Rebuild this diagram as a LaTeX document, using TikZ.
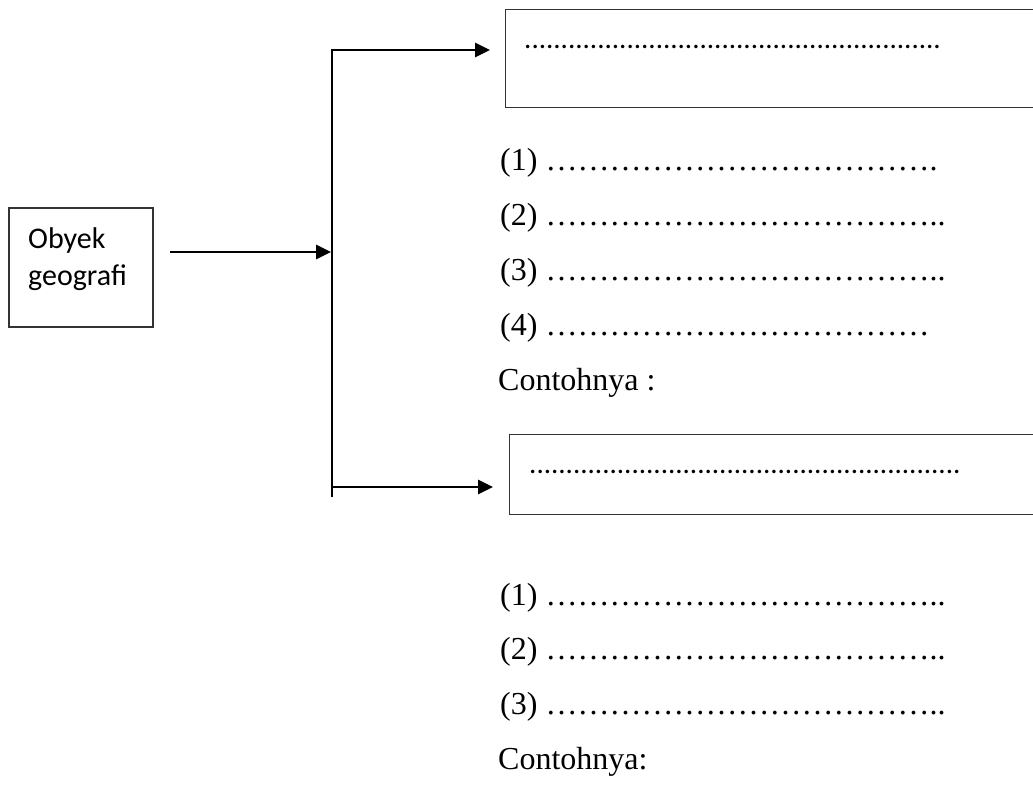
\documentclass[tikz,border=0pt]{standalone}
\usepackage{fontspec}
\setmainfont{Liberation Serif}
\newfontfamily\calib{Carlito}
\usetikzlibrary{arrows.meta}
\begin{document}
\begin{tikzpicture}[x=1pt,y=-1pt,
  box/.style={draw=black!80, line width=1.3pt, inner sep=0pt},
  conn/.style={line width=2.8pt},
  arr/.style={conn,-{Triangle[length=15pt,width=14pt]}},
  item/.style={anchor=base west, inner sep=0pt, font=\fontsize{32}{38}\selectfont},
  dotline/.style={anchor=base west, inner sep=0pt, font=\calib\fontsize{29}{35}\selectfont},
  objtext/.style={anchor=north west, inner sep=0pt, font=\calib\fontsize{30}{37}\selectfont, align=left}]
\useasboundingbox (0,0) rectangle (1033,786);

% left box
\node[box, minimum width=144pt, minimum height=119pt] (obj) at (81,267.5) {};
\node[objtext] (objt) at (28,227) {Obyek\\geografi};

% right boxes
\node[box, minimum width=540pt, minimum height=98pt, anchor=north west] (tb) at (505,9) {};
\node[box, minimum width=540pt, minimum height=80pt, anchor=north west] (bb) at (509,434) {};
\node[dotline] (tbt) at (524,49) {.........................................................};
\node[dotline] (bbt) at (529,473) {...........................................................};

% connectors
\coordinate (ms) at (170,252);
\coordinate (mj) at (331,252);
\coordinate (jt) at (332,50);
\coordinate (jb) at (332,497);
\coordinate (jm) at (332,487);
\coordinate (ta) at (490,50);
\coordinate (ba) at (493,487);
\draw[arr] (ms) -- (mj);
\draw[arr] (jb) -- (jt) -- (ta);
\draw[arr] (jm) -- (ba);

% top list
\node[item] (t1) at (500,171) {(1) ……………………………….};
\node[item] (t2) at (500,226) {(2) ………………………………..};
\node[item] (t3) at (500,280) {(3) ………………………………..};
\node[item] (t4) at (500,335) {(4) ………………………………};
\node[item] (t5) at (498,390) {Contohnya :};

% bottom list
\node[item] (b1) at (500,605) {(1) ………………………………..};
\node[item] (b2) at (500,659) {(2) ………………………………..};
\node[item] (b3) at (500,714) {(3) ………………………………..};
\node[item] (b4) at (498,769) {Contohnya:};
\end{tikzpicture}
\end{document}
